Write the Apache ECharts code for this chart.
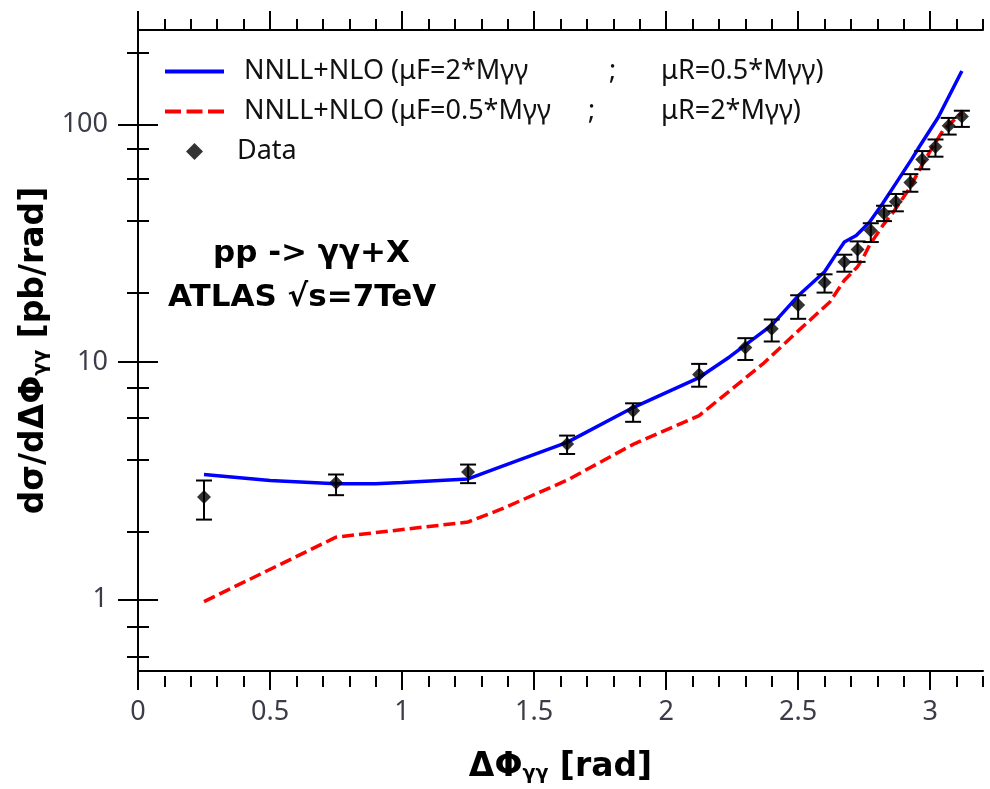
<!DOCTYPE html>
<html>
<head>
<meta charset="utf-8">
<script src="https://cdn.jsdelivr.net/npm/echarts@6/dist/echarts.min.js"></script>
<style>
  html, body { margin: 0; padding: 0; background: #fff; }
  #chart { width: 990px; height: 789px; }
</style>
</head>
<body>
<div id="chart"></div>
<script>
// NNLL+NLO, muF=2*M, muR=0.5*M (blue solid)
const blueX = [0.25, 0.5, 0.75, 0.9, 1.0, 1.25, 1.375, 1.625, 1.875, 2.125, 2.24, 2.4, 2.5, 2.6, 2.645, 2.675, 2.72, 2.77, 2.82, 2.87, 2.93, 2.96, 3.03, 3.12];
const blueY = [3.36, 3.17, 3.07, 3.07, 3.11, 3.22, 3.63, 4.59, 6.43, 8.6, 10.5, 14.3, 19.0, 24.0, 28.6, 32.0, 34.1, 38.8, 46.5, 56.5, 71.5, 81, 107, 168];

// NNLL+NLO, muF=0.5*M, muR=2*M (red dashed)
const redX = [0.25, 0.75, 1.25, 1.375, 1.625, 1.875, 2.125, 2.24, 2.37, 2.49, 2.62, 2.675, 2.725, 2.745, 2.77, 2.82, 2.86, 2.92, 2.98, 3.05, 3.12];
const redY = [0.98, 1.83, 2.12, 2.4, 3.18, 4.5, 5.95, 7.55, 9.9, 13.2, 17.9, 22.1, 25.2, 27.3, 31, 37.5, 42.7, 53.5, 71, 95, 112];

// ATLAS data with errors
const dataX  = [0.25, 0.75, 1.25, 1.625, 1.875, 2.125, 2.3, 2.4, 2.5, 2.6, 2.675, 2.725, 2.775, 2.825, 2.87, 2.925, 2.97, 3.02, 3.07, 3.12];
const dataY  = [2.70, 3.10, 3.44, 4.52, 6.23, 8.86, 11.5, 13.8, 17.4, 21.6, 26.4, 29.8, 35.8, 42.3, 47.3, 57.0, 71.3, 80.6, 98.9, 108.2];
const dataLo = [2.17, 2.75, 3.09, 4.10, 5.60, 7.87, 10.2, 12.2, 15.2, 19.6, 24.0, 26.4, 32.0, 39.2, 43.1, 52.1, 64.8, 73.2, 90.7, 97.7];
const dataHi = [3.17, 3.36, 3.70, 4.90, 6.70, 9.82, 12.6, 15.1, 19.1, 23.4, 28.3, 32.2, 38.4, 45.5, 51.0, 61.8, 77.3, 86.5, 106.6, 114.3];

// ticks
const xMajor = [0, 0.5, 1, 1.5, 2, 2.5, 3];
const xMinor = [0.1, 0.2, 0.3, 0.4, 0.6, 0.7, 0.8, 0.9, 1.1, 1.2, 1.3, 1.4, 1.6, 1.7, 1.8, 1.9,
                2.1, 2.2, 2.3, 2.4, 2.6, 2.7, 2.8, 2.9, 3.1, 3.2];
const yMajor = [1, 10, 100];
const yMinor = [0.6, 0.8, 2, 4, 6, 8, 20, 40, 60, 80, 200];

const nameBlue = 'NNLL+NLO (μF=2*Mγγ;μR=0.5*Mγγ)';
const nameRed = 'NNLL+NLO (μF=0.5*Mγγ;μR=2*Mγγ)';
const nameData = 'Data';

const FONT = 'Noto Sans';
const BOLD = 'DejaVu Sans';
const LBL = '#3c3c48';
const black = { color: '#000', width: 2 };

const grid = { left: 138, top: 30, right: 7, bottom: 113 };

function xAx(gi, pos, ticks, len, extra) {
  return Object.assign({
    type: 'value', gridIndex: gi, position: pos, min: 0, max: 3.2,
    axisLine: { show: true, lineStyle: black },
    splitLine: { show: false },
    axisTick: { show: true, customValues: ticks, length: len, lineStyle: black },
    axisLabel: { show: false }
  }, extra || {});
}
function yAx(gi, pos, ticks, len, extra) {
  return Object.assign({
    type: 'log', logBase: 10, gridIndex: gi, position: pos, min: 0.5, max: 250,
    axisLine: { show: true, lineStyle: black },
    splitLine: { show: false },
    axisTick: { show: true, customValues: ticks, length: len, lineStyle: black },
    axisLabel: { show: false }
  }, extra || {});
}

const titleStyle = {
  fontFamily: BOLD, fontWeight: 'bold', fontSize: 33, color: '#000',
  rich: { s: { fontFamily: BOLD, fontWeight: 'bold', fontSize: 19, color: '#000', verticalAlign: 'bottom', padding: [14, 0, 0, 0] } }
};

const lg = (w, extra) => Object.assign({ fontFamily: FONT, fontSize: 27, color: '#111', lineHeight: 30 }, w ? { width: w } : {}, extra || {});

const chart = echarts.init(document.getElementById('chart'));

chart.setOption({
  animation: false,
  backgroundColor: '#fff',
  grid: [grid, grid],
  xAxis: [
    xAx(0, 'bottom', xMajor, 19, {
      axisLabel: { show: true, customValues: xMajor, margin: 28, fontSize: 27, color: LBL, fontFamily: FONT },
      name: 'ΔΦ{s|γγ} [rad]', nameLocation: 'middle', nameGap: 80,
      nameTextStyle: titleStyle
    }),
    xAx(0, 'top', xMajor, 19),
    xAx(1, 'bottom', xMinor, 11, { axisLine: { show: false } }),
    xAx(1, 'top', xMinor, 11, { axisLine: { show: false } })
  ],
  yAxis: [
    yAx(0, 'left', yMajor, 20, {
      axisLabel: { show: true, customValues: yMajor, margin: 30, fontSize: 27, color: LBL, fontFamily: FONT },
      name: 'dσ/dΔΦ{s|γγ} [pb/rad]', nameLocation: 'middle', nameGap: 86,
      nameTextStyle: titleStyle
    }),
    yAx(0, 'right', yMajor, 20),
    yAx(1, 'left', yMinor, 11, { axisLine: { show: false } }),
    yAx(1, 'right', yMinor, 11, { axisLine: { show: false } })
  ],
  legend: {
    left: 158, top: 53, orient: 'vertical',
    itemWidth: 59, itemHeight: 17, itemGap: 13,
    data: [
      { name: nameBlue, itemStyle: { opacity: 0 }, lineStyle: { width: 4 } },
      { name: nameRed, itemStyle: { opacity: 0 }, lineStyle: { width: 4, type: [16, 5.5] } },
      { name: nameData, icon: 'path://M0,-1L1,0L0,1L-1,0Z' }
    ],
    formatter: function (name) {
      if (name === nameData) return '{d|' + name + '}';
      const parts = name.split(';');
      const k = name === nameBlue ? '1' : '2';
      return '{a' + k + '|' + parts[0] + '}{s' + k + '|;}{b|' + parts[1] + '}';
    },
    textStyle: {
      fontFamily: FONT, fontSize: 27, color: '#111',
      rich: {
        a1: lg(365, { padding: [0, 0, 0, 15] }),
        a2: lg(344, { padding: [0, 0, 0, 15] }),
        s1: lg(52),
        s2: lg(73),
        b: lg(0),
        d: lg(0, { padding: [0, 0, 0, 8] })
      }
    }
  },
  graphic: [
    { type: 'text', left: 213, top: 238, style: { text: 'pp -> γγ+X', fontFamily: BOLD, fontWeight: 'bold', fontSize: 31, fill: '#000' } },
    { type: 'text', left: 168, top: 282, style: { text: 'ATLAS √s=7TeV', fontFamily: BOLD, fontWeight: 'bold', fontSize: 31, fill: '#000' } }
  ],
  series: [
    {
      name: nameBlue, type: 'line', xAxisIndex: 0, yAxisIndex: 0,
      symbol: 'none', smooth: false,
      data: blueX.map((x, i) => [x, blueY[i]]),
      lineStyle: { color: '#0000ff', width: 3.5 },
      itemStyle: { color: '#0000ff' },
      z: 2
    },
    {
      name: nameRed, type: 'line', xAxisIndex: 0, yAxisIndex: 0,
      symbol: 'none', smooth: false,
      data: redX.map((x, i) => [x, redY[i]]),
      lineStyle: { color: '#ff0000', width: 3.5, type: [12, 5] },
      itemStyle: { color: '#ff0000' },
      z: 2
    },
    {
      name: 'errors', type: 'custom', xAxisIndex: 0, yAxisIndex: 0,
      data: dataX.map((x, i) => [x, dataLo[i], dataHi[i]]),
      encode: { x: 0, y: [1, 2] },
      renderItem: function (params, api) {
        const lo = api.coord([api.value(0), api.value(1)]);
        const hi = api.coord([api.value(0), api.value(2)]);
        const w = 8;
        const st = { stroke: '#000', lineWidth: 2 };
        return {
          type: 'group',
          children: [
            { type: 'line', shape: { x1: lo[0], y1: lo[1], x2: hi[0], y2: hi[1] }, style: st },
            { type: 'line', shape: { x1: lo[0] - w, y1: lo[1], x2: lo[0] + w, y2: lo[1] }, style: st },
            { type: 'line', shape: { x1: hi[0] - w, y1: hi[1], x2: hi[0] + w, y2: hi[1] }, style: st }
          ]
        };
      },
      z: 3
    },
    {
      name: nameData, type: 'scatter', xAxisIndex: 0, yAxisIndex: 0,
      symbol: 'diamond', symbolSize: 14,
      data: dataX.map((x, i) => [x, dataY[i]]),
      itemStyle: { color: '#000' },
      z: 4
    }
  ]
});
</script>
</body>
</html>
